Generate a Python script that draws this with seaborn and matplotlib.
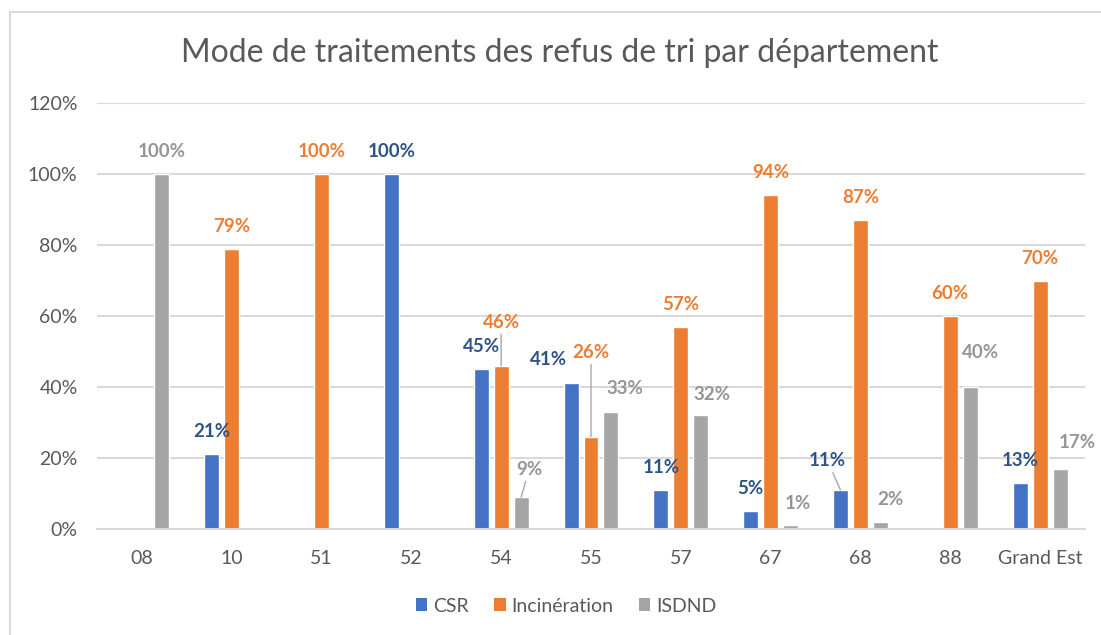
import matplotlib
matplotlib.use("Agg")
import matplotlib.pyplot as plt
from matplotlib.patches import Rectangle, Patch
from matplotlib.ticker import FuncFormatter, MultipleLocator
import seaborn as sns
import pandas as pd

# --- data -------------------------------------------------------------
departements = ["08", "10", "51", "52", "54", "55", "57", "67", "68", "88", "Grand Est"]
modes = ["CSR", "Incinération", "ISDND"]
csr = [0, 21, 0, 100, 45, 41, 11, 5, 11, 0, 13]
incineration = [0, 79, 100, 0, 46, 26, 57, 94, 87, 60, 70]
isdnd = [100, 0, 0, 0, 9, 33, 32, 1, 2, 40, 17]
title = "Mode de traitements des refus de tri par département"

# --- style --------------------------------------------------------------
colors = {"CSR": "#4472C4", "Incinération": "#ED7D31", "ISDND": "#A5A5A5"}
label_colors = {"CSR": "#2E5385", "Incinération": "#ED7D31", "ISDND": "#959595"}
text_grey = "#595959"
grid_grey = "#D9D9D9"

sns.set_theme(style="white")
plt.rcParams["font.family"] = ["Lato", "DejaVu Sans"]

series = {"CSR": csr, "Incinération": incineration, "ISDND": isdnd}
df = pd.DataFrame(
    [(d, m, v) for m, vals in series.items() for d, v in zip(departements, vals)],
    columns=["departement", "mode", "valeur"],
)

fig = plt.figure(figsize=(11.01, 6.35), dpi=100)
ax = fig.add_axes([97 / 1101, 1 - 529 / 635, (1085 - 97) / 1101, (529 - 103) / 635])

group_width = 0.668
sns.barplot(
    data=df, x="departement", y="valeur", hue="mode",
    order=departements, hue_order=modes, palette=colors,
    width=group_width, gap=0.25, errorbar=None, saturation=1,
    ax=ax, legend=False,
)

ax.set_ylim(0, 120)
ax.set_xlim(-0.5, len(departements) - 0.5)
ax.yaxis.set_major_locator(MultipleLocator(20))
ax.yaxis.set_major_formatter(FuncFormatter(lambda v, _: f"{v:.0f}%"))
ax.set_xlabel("")
ax.set_ylabel("")
ax.grid(axis="y", color=grid_grey, linewidth=1.5)
ax.set_axisbelow(True)
for side in ["top", "right", "left"]:
    ax.spines[side].set_visible(False)
ax.spines["bottom"].set_color(grid_grey)
ax.spines["bottom"].set_linewidth(1.5)
ax.tick_params(axis="both", length=0, colors=text_grey, labelsize=14)
ax.tick_params(axis="y", pad=14)
ax.tick_params(axis="x", pad=15)

# --- data labels ----------------------------------------------------------
# label placement (pixels from the bar top) and leader lines for moved labels
default_offset = (0, 22.5)
label_offsets = {
    ("CSR", "55"): (-22, 24),
    ("Incinération", "54"): (0, 43),
    ("ISDND", "54"): (8, 27.5),
    ("Incinération", "55"): (0, 84),
    ("ISDND", "55"): (14, 23),
    ("ISDND", "57"): (11, 21),
    ("ISDND", "67"): (7, 21.5),
    ("CSR", "68"): (-13, 29),
    ("ISDND", "68"): (9.5, 22),
    ("ISDND", "88"): (10, 34),
    ("ISDND", "Grand Est"): (17, 26),
}
leaders = {("Incinération", "54"), ("ISDND", "54"), ("Incinération", "55"), ("CSR", "68")}

step = group_width / len(modes)
for j, mode in enumerate(modes):
    for i, (dep, val) in enumerate(zip(departements, series[mode])):
        if val <= 0:
            continue
        x = i + (j - 1) * step
        dx, dy = label_offsets.get((mode, dep), default_offset)
        arrow = None
        if (mode, dep) in leaders:
            arrow = dict(arrowstyle="-", color="#A6A6A6", lw=1, shrinkA=0, shrinkB=0)
        ax.annotate(
            f"{val}%", xy=(x, val), xytext=(dx, dy), textcoords="offset pixels",
            ha="center", va="center", fontsize=13.5, fontweight="bold",
            color=label_colors[mode], arrowprops=arrow, annotation_clip=False,
        )

# --- title, legend, frame ---------------------------------------------------
fig.text(560 / 1101, 1 - 53 / 635, title, ha="center", va="center",
         fontsize=23, color=text_grey)

handles = [Patch(facecolor=colors[m], edgecolor="none") for m in modes]
fig.legend(handles, modes, loc="center", bbox_to_anchor=(566 / 1101, 29 / 635),
           ncol=3, frameon=False, fontsize=14, handlelength=0.6, handleheight=0.6,
           handletextpad=0.3, columnspacing=1.3, labelcolor=text_grey)

frame = Rectangle((10 / 1101, -0.05), 1.2, 1 - 12 / 635 + 0.05, transform=fig.transFigure,
                  fill=False, edgecolor=grid_grey, linewidth=1.5, clip_on=False)
fig.add_artist(frame)

fig.savefig("out.png", dpi=100, facecolor="white")
